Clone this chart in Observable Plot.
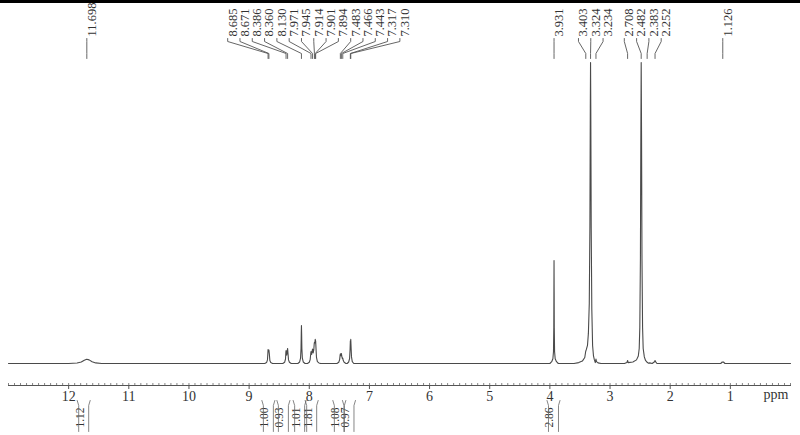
<!DOCTYPE html>
<html><head><meta charset="utf-8">
<script src="https://cdn.jsdelivr.net/npm/d3@7"></script>
<script src="https://cdn.jsdelivr.net/npm/@observablehq/plot@0.6"></script>
<style>
html,body{margin:0;padding:0;background:#fff;}
#wrap{position:relative;width:800px;height:435px;overflow:hidden;}
#bar{position:absolute;left:0;top:0;width:800px;height:3px;background:#000;}
</style></head><body>
<div id="wrap"><div id="chart"></div><div id="bar"></div></div>
<script>
// Spectrum trace: [ppm, relative intensity]
const spectrum = [
  [13.0,0],[12.0,0],[11.86,0.15],[11.79,0.5],[11.74,1.1],[11.70,1.4],[11.66,1.2],[11.61,0.6],[11.55,0.2],[11.45,0],
  [8.74,0],[8.71,0.3],[8.695,1.2],[8.688,3.5],[8.685,4.6],[8.678,3.9],[8.671,4.5],[8.664,3.2],[8.655,1.0],[8.64,0.3],[8.61,0],
  [8.44,0],[8.41,0.4],[8.395,1.5],[8.389,3.8],[8.386,4.3],[8.375,2.8],[8.366,4.2],[8.360,5.0],[8.354,3.5],[8.345,1.2],[8.33,0.4],[8.30,0],
  [8.19,0],[8.16,0.5],[8.145,1.8],[8.137,5],[8.133,10],[8.130,12.6],[8.127,10],[8.123,5],[8.115,1.8],[8.10,0.5],[8.07,0],
  [8.03,0],[8.0,0.4],[7.985,1.3],[7.975,3.3],[7.971,4.0],[7.960,3.0],[7.950,4.4],[7.945,4.8],[7.935,3.5],[7.925,4.5],[7.918,6.5],[7.914,7.0],[7.907,6.8],[7.901,8.0],[7.897,7.6],[7.894,7.5],[7.888,5],[7.880,2],[7.865,0.6],[7.84,0.2],[7.81,0],
  [7.54,0],[7.51,0.4],[7.495,1.3],[7.487,2.8],[7.483,3.2],[7.475,2.6],[7.470,3.1],[7.466,3.3],[7.458,2.3],[7.450,1.6],[7.443,1.8],[7.435,1.0],[7.42,0.4],[7.39,0],
  [7.37,0],[7.345,0.5],[7.330,1.6],[7.322,4.5],[7.317,7.5],[7.313,7.2],[7.310,8.0],[7.305,5.5],[7.298,2.2],[7.285,0.6],[7.26,0],
  [4.00,0],[3.97,0.6],[3.95,1.6],[3.94,4],[3.935,12],[3.933,24],[3.931,34.2],[3.929,24],[3.927,12],[3.922,4],[3.912,1.6],[3.89,0.6],[3.86,0],
  [3.60,0],[3.52,0.3],[3.46,0.8],[3.42,2.0],[3.405,4.0],[3.395,4.6],[3.375,6],[3.36,10],[3.345,20],[3.335,45],[3.328,85],[3.324,100],[3.320,85],[3.313,45],[3.303,18],[3.29,6],[3.275,2.5],[3.26,1.2],[3.245,0.3],[3.234,1.5],[3.225,0.6],[3.20,0.2],[3.15,0],
  [2.76,0],[2.72,0.3],[2.708,1.0],[2.698,0.3],[2.62,0.5],[2.56,1.2],[2.53,2.5],[2.515,5],[2.505,12],[2.495,35],[2.488,75],[2.482,100],[2.476,75],[2.469,35],[2.459,12],[2.449,5],[2.43,2.2],[2.41,1.0],[2.383,0.4],[2.36,0.1],[2.34,0.2],[2.30,0],[2.26,0.6],[2.252,1.0],[2.244,0.6],[2.22,0],
  [1.16,0],[1.135,0.5],[1.126,0.4],[1.115,0.5],[1.09,0],
  [0.0,0]
];
// Peak picking labels (ppm)
const peakLabels = [11.698, 8.685, 8.671, 8.386, 8.360, 8.130, 7.971, 7.945, 7.914, 7.901, 7.894,
  7.483, 7.466, 7.443, 7.317, 7.310, 3.931, 3.403, 3.324, 3.234, 2.708, 2.482, 2.383, 2.252, 1.126];
// Integrals: centre ppm and value
const integralPpm = [11.75, 8.68, 8.43, 8.16, 7.96, 7.50, 7.34];
const integralValues = ["1.12", "1.00", "0.93", "1.01", "1.81", "1.08", "0.97"];
const integralPpm2 = [3.94];
const integralValues2 = ["2.86"];
// Axis ticks
const axisTicks = [12, 11, 10, 9, 8, 7, 6, 5, 4, 3, 2, 1];
const minorTicks = d3.range(0, 131).map(i => i / 10);

const X_RANGE = [8, 790], Y_RANGE = [363, 62];
const x = Plot.scale({x: {domain: [13, 0], range: X_RANGE}});
const y = Plot.scale({y: {domain: [0, 100], range: Y_RANGE}});

// label layout: spread crowded labels evenly around the mean of their peaks
const S = 12.3;
const items = peakLabels.map(p => ({p, t: x.apply(p)})).sort((a, b) => a.t - b.t);
let groups = items.map(d => [d]);
const pos = g => { const m = d3.mean(g, d => d.t); return g.map((d, i) => m + (i - (g.length - 1) / 2) * S); };
let merged = true;
while (merged) {
  merged = false;
  for (let i = 0; i < groups.length - 1; i++) {
    const a = pos(groups[i]), b = pos(groups[i + 1]);
    if (a[a.length - 1] + S > b[0]) { groups.splice(i, 2, groups[i].concat(groups[i + 1])); merged = true; break; }
  }
}
groups.forEach(g => { const ps = pos(g); g.forEach((d, i) => d.lx = ps[i]); });

const leaders = items.flatMap(d => [[d.lx, 38], [d.lx, 41], [d.t, 53], [d.t, 58]]
  .map(([px, py]) => ({id: d.p, x: x.invert(px), y: y.invert(py)})));

const integrals = integralPpm.concat(integralPpm2).map((p, i) => ({p, v: integralValues.concat(integralValues2)[i]}));
const brackets = integrals.flatMap((d, i) => {
  const cx = x.apply(d.p);
  return [-1, 1].flatMap(s => [[cx + s * 6.5, 400], [cx + s * 5, 405], [cx + s * 5, 431]]
    .map(([px, py]) => ({id: i + "_" + s, x: x.invert(px), y: y.invert(py)})));
});

const chart = Plot.plot({
  width: 800, height: 435,
  marginLeft: 8, marginRight: 10, marginTop: 0, marginBottom: 50,
  x: {domain: [13, 0], range: X_RANGE},
  y: {domain: [0, 100], range: Y_RANGE, axis: null},
  style: {fontFamily: "'Liberation Serif', 'Times New Roman', serif", background: "white", color: "#333"},
  marks: [
    Plot.frame({anchor: "bottom", stroke: "#555", strokeWidth: 1}),
    Plot.axisX(minorTicks, {tickSize: -2, tickFormat: () => "", stroke: "#666", strokeWidth: 0.8}),
    Plot.axisX(axisTicks, {tickSize: 4, tickPadding: 2, fontSize: 14, fill: "#333", stroke: "#555", tickFormat: d => String(d)}),
    Plot.line(spectrum, {x: d => d[0], y: d => d[1], stroke: "#4a4a4a", strokeWidth: 1.1}),
    Plot.text(items, {x: d => x.invert(d.lx), frameAnchor: "top", dy: 36, rotate: -90, textAnchor: "start",
      text: d => d.p.toFixed(3), fontSize: 12.5, fill: "#333"}),
    Plot.line(leaders, {x: "x", y: "y", z: "id", stroke: "#555", strokeWidth: 0.9}),
    Plot.text(integrals, {x: "p", frameAnchor: "bottom", dy: 32, rotate: -90, text: "v", fontSize: 11.5, fill: "#333"}),
    Plot.line(brackets, {x: "x", y: "y", z: "id", stroke: "#666", strokeWidth: 0.8}),
    Plot.text(["ppm"], {frameAnchor: "bottom-right", textAnchor: "end", dx: -2, dy: 13, fontSize: 14, fill: "#333"})
  ]
});
document.getElementById("chart").appendChild(chart);
</script>
</body></html>
